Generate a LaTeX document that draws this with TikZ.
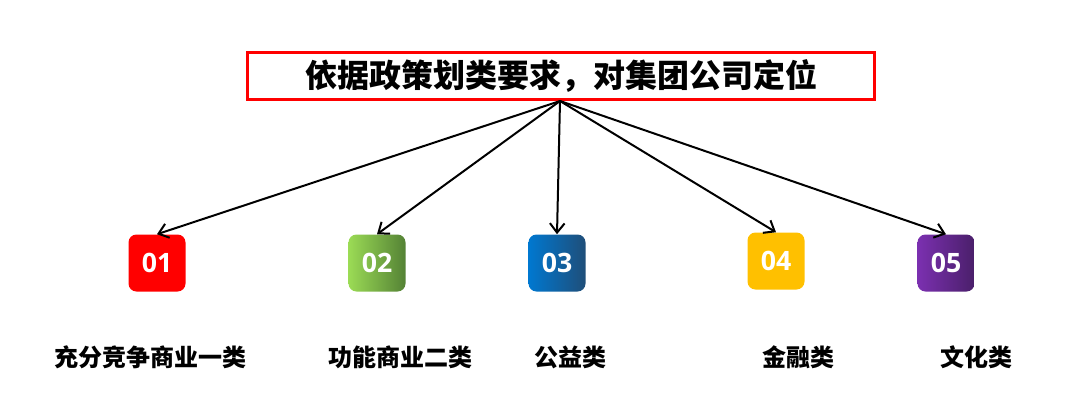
\documentclass[tikz,border=0pt]{standalone}
\usepackage{fontspec}
\newfontfamily\cjk{Noto Sans CJK SC}[BoldFont={Noto Sans CJK SC Black}]
\newfontfamily\numfont{Open Sans}
\usetikzlibrary{arrows.meta}
\definecolor{c1}{HTML}{FF0000}
\definecolor{c2a}{HTML}{9BDB55}
\definecolor{c2b}{HTML}{548235}
\definecolor{c3a}{HTML}{0078D0}
\definecolor{c3b}{HTML}{1F4E79}
\definecolor{c4}{HTML}{FFC000}
\definecolor{c5a}{HTML}{7B30B0}
\definecolor{c5b}{HTML}{4A1F6A}
\tikzset{
  numbox/.style={minimum width=42.75pt, minimum height=42.75pt, rounded corners=6pt, inner sep=0pt,
    text=white, font=\numfont\bfseries\fontsize{20}{22}\selectfont},
  cat/.style={font=\cjk\bfseries\fontsize{18}{20}\selectfont, inner sep=0pt},
  arr/.style={line width=1.5pt, -{Straight Barb[length=7pt,width=11pt,line width=1.5pt]}}
}
\begin{document}
\begin{tikzpicture}[x=0.75pt,y=-0.75pt]
\useasboundingbox (0,0) rectangle (1080,408);
\node[draw=red, line width=2.25pt, minimum width=470pt, minimum height=35pt, inner sep=0pt,
  font=\cjk\bfseries\fontsize{24}{26}\selectfont] (title) at (561,76) {依据政策划类要求，对集团公司定位};
\node[numbox, fill=c1] (b1) at (157,263) {01};
\node[numbox, left color=c2a, right color=c2b] (b2) at (377,263) {02};
\node[numbox, left color=c3a, right color=c3b] (b3) at (557,263) {03};
\node[numbox, fill=c4] (b4) at (776,261) {04};
\node[numbox, left color=c5a, right color=c5b] (b5) at (946,263) {05};
\coordinate (src) at (560,101);
\foreach \i in {1,...,5} {\draw[arr] (src) -- (b\i.north);}
\node[cat] (l1) at (150,357) {充分竞争商业一类};
\node[cat] (l2) at (400,357) {功能商业二类};
\node[cat] (l3) at (570,357) {公益类};
\node[cat] (l4) at (798,357) {金融类};
\node[cat] (l5) at (976,357) {文化类};
\end{tikzpicture}
\end{document}
